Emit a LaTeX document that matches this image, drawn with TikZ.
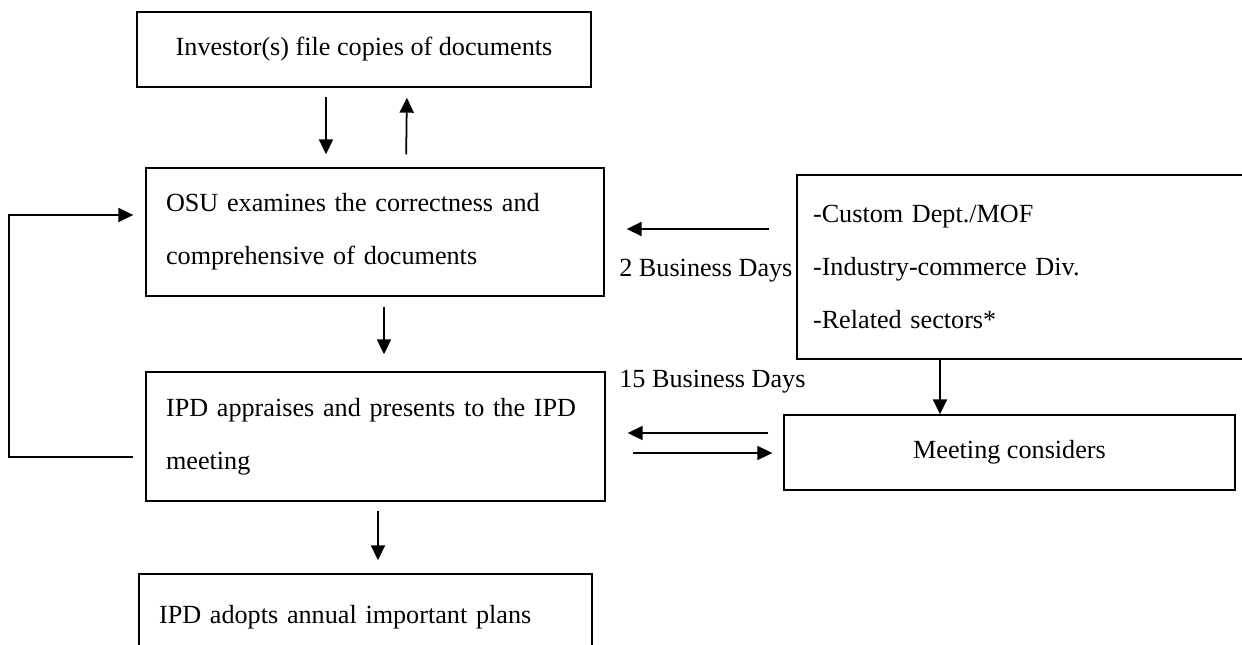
\documentclass[tikz,border=0pt]{standalone}
\usepackage{fontspec}
\setmainfont{Liberation Serif}
\usetikzlibrary{arrows.meta}
\begin{document}
\begin{tikzpicture}
[x=0.02cm,y=-0.02cm,
  every node/.style={font=\fontsize{14.9}{30}\selectfont,inner sep=0pt},%
  boxdecorate/.style={draw,line width=0.8pt},%
  textboxdecorate/.style={boxdecorate,align=left,text width=#1},%
  arrowdecorate/.style={-{Triangle[length=0.3cm,width=0.28cm]},line width=1pt},%
  linedecorate/.style={-,line width=0.8pt}]
\useasboundingbox (0,0) rectangle (1242,645);
\clip (0,0) rectangle (1242,645);
%% boxes
\node (investor) at (364,49.5) [boxdecorate,minimum width=9.08cm,minimum height=1.5cm]
  {Investor(s) file copies of documents};
\node (osu) at (375,232) [textboxdecorate=8.36cm,minimum width=9.16cm,minimum height=2.56cm]
  {OSU examines the correctness and\\comprehensive of documents};
\node (ipd) at (375.5,436.5) [textboxdecorate=8.38cm,minimum width=9.18cm,minimum height=2.58cm]
  {IPD appraises and presents to the IPD\\meeting};
\node (adopt) at (365.5,617) [textboxdecorate=8.26cm,minimum width=9.06cm,minimum height=1.72cm]
  {IPD adopts annual important plans};
\node (sectors) at (1043.5,267) [textboxdecorate=9.22cm,minimum width=9.86cm,minimum height=3.68cm]
  {-Custom Dept./MOF\\-Industry-commerce Div.\\-Related sectors*};
\node (meeting) at (1009.5,452.5) [boxdecorate,minimum width=9.02cm,minimum height=1.5cm]
  {Meeting considers};
%% labels
\node (twodays) at (619,271) [anchor=west] {2 Business Days};
\node (fifteendays) at (619,382) [anchor=west] {15 Business Days};
%% arrows down the middle
\foreach \from/\to/\x/\a/\b in {investor/osu/326/0.18/0.26,
  osu/ipd/384/0.2/0.34, ipd/adopt/378/0.18/0.26} {
  \draw[arrowdecorate,shorten <=\a cm,shorten >=\b cm] (\from.south -| \x,0) -- (\to.north -| \x,0);
}
\draw[arrowdecorate,shorten <=0.26cm,shorten >=0.2cm] (osu.north -| 406,0) -- (investor.south -| 407,0);
%% loop back on the left
\draw[arrowdecorate,shorten <=0.24cm,shorten >=0.24cm]
  (ipd.west |- 0,457) -- ++(-136,0) |- (osu.west |- 0,215);
%% arrows on the right
\draw[arrowdecorate,shorten <=0.54cm,shorten >=0.44cm] (sectors.west |- 0,229) -- (osu.east |- 0,229);
\draw[arrowdecorate] (sectors.south -| 940,0) -- (meeting.north -| 940,0);
\draw[arrowdecorate,shorten <=0.3cm,shorten >=0.44cm] (meeting.west |- 0,433) -- (ipd.east |- 0,433);
\draw[arrowdecorate,shorten <=0.54cm,shorten >=0.22cm] (ipd.east |- 0,453) -- (meeting.west |- 0,453);
\end{tikzpicture}
\end{document}
